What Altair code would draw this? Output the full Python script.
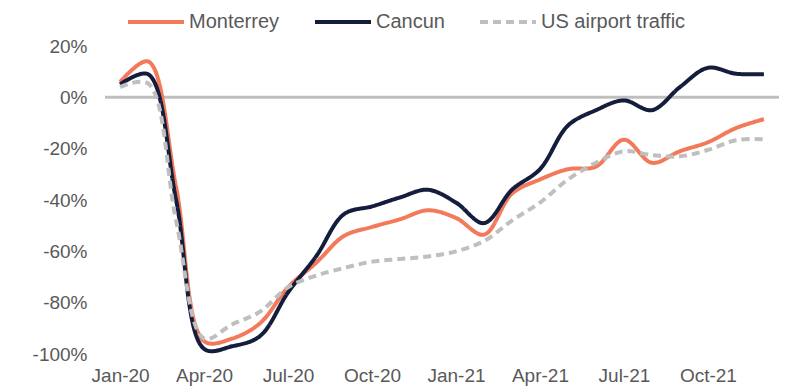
import altair as alt
import pandas as pd

months = ["Jan-20","Feb-20","Mar-20","Apr-20","May-20","Jun-20","Jul-20","Aug-20","Sep-20","Oct-20","Nov-20","Dec-20",
          "Jan-21","Feb-21","Mar-21","Apr-21","May-21","Jun-21","Jul-21","Aug-21","Sep-21","Oct-21","Nov-21","Dec-21"]

monterrey = [6, 14, -35, -95, -94, -88, -74, -64.5, -54, -50.5, -47.5, -44,
             -47, -53.5, -37.5, -32, -28, -27, -16.5, -25.5, -21, -17.5, -12, -8.5]
cancun = [5, 9, -40, -98, -97, -93, -76, -62, -45.5, -42.5, -39, -36,
          -41, -49, -36, -28, -11, -5, -1.2, -5, 4, 11.5, 9.2, 9]
us_traffic = [4, 5.4, -48, -94, -88.5, -83.5, -74, -69.5, -66.5, -64, -63, -62,
              -60, -56, -48, -41, -32, -25.5, -21, -22.5, -23, -20.5, -16.7, -16.3]

series_names = ["Monterrey", "Cancun", "US airport traffic"]
series_values = [monterrey, cancun, us_traffic]
series_colors = ["#F27A5A", "#141D3B", "#BFBFBF"]
series_dash = [[1, 0], [1, 0], [8, 5]]

tick_labels = ["Jan-20", "Apr-20", "Jul-20", "Oct-20", "Jan-21", "Apr-21", "Jul-21", "Oct-21"]
tick_values = [0, 3, 6, 9, 12, 15, 18, 21]

rows = []
for name, vals in zip(series_names, series_values):
    for i, (m, v) in enumerate(zip(months, vals)):
        rows.append({"idx": i, "month": m, "series": name, "value": v})
df = pd.DataFrame(rows)

label_arr = "[" + ",".join("'%s'" % t for t in tick_labels) + "]"

FONT = "Liberation Sans"
TXT = "#595959"

x = alt.X("idx:Q", scale=alt.Scale(domain=[-0.54, 23.54], nice=False, zero=False),
          axis=alt.Axis(values=tick_values, labelExpr=label_arr + "[datum.value/3]",
                        title=None, grid=False, domain=False, ticks=False,
                        labelPadding=12, labelFontSize=19, labelColor=TXT, labelFont=FONT))
y = alt.Y("value:Q", scale=alt.Scale(domain=[-100, 20], nice=False),
          axis=alt.Axis(values=[20, 0, -20, -40, -60, -80, -100],
                        labelExpr="datum.value + '%'",
                        title=None, grid=False, domain=False, ticks=False,
                        labelPadding=18, labelFontSize=19, labelColor=TXT, labelFont=FONT))

color = alt.Color("series:N", scale=alt.Scale(domain=series_names, range=series_colors),
                  legend=alt.Legend(title=None, orient="none", direction="horizontal",
                                    legendX=21, legendY=-54,
                                    symbolType="stroke", symbolSize=3136, symbolStrokeWidth=4,
                                    labelFontSize=20, labelColor=TXT, labelFont=FONT,
                                    labelOffset=3, columnPadding=27))
dash = alt.StrokeDash("series:N", scale=alt.Scale(domain=series_names, range=series_dash),
                      legend=None)

zero = alt.Chart(pd.DataFrame({"z": [0]})).mark_rule(color="#BFBFBF", strokeWidth=3).encode(
    y=alt.Y("z:Q", scale=alt.Scale(domain=[-100, 20], nice=False)))

layers = [zero]
for name in series_names:
    layers.append(
        alt.Chart(df).transform_filter(alt.datum.series == name)
        .mark_line(strokeWidth=4, interpolate="catmull-rom")
        .encode(x=x, y=y, color=color, strokeDash=dash, order="idx:Q")
    )

chart = alt.layer(*layers).resolve_scale(y="shared").properties(
    width=674, height=308,
    autosize=alt.AutoSizeParams(type="none"),
    padding={"left": 97, "top": 38, "right": 6, "bottom": 36},
).configure_view(stroke=None)

chart.save("out.html", embed_options={"renderer": "svg", "actions": False})
